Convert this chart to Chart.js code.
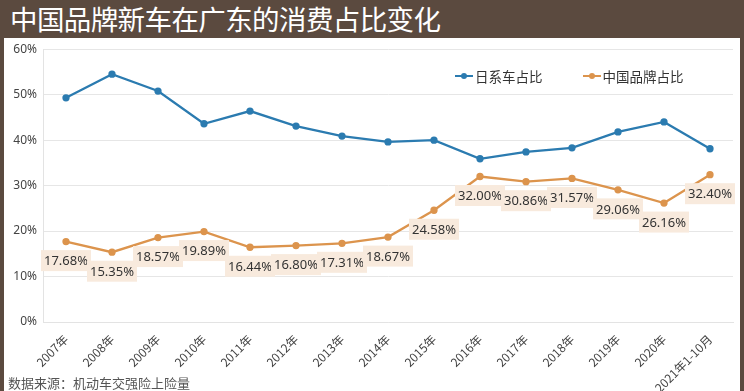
<!DOCTYPE html>
<html>
<head>
<meta charset="utf-8">
<script src="https://cdn.jsdelivr.net/npm/chart.js@4/dist/chart.umd.min.js"></script>
<style>
  body { margin: 0; }
  .frame {
    position: relative; width: 744px; height: 391px;
    background: #5b4a3f; overflow: hidden;
    font-family: "Noto Sans CJK SC", "Noto Sans", sans-serif;
  }
  .title {
    position: absolute; left: 10px; top: 0px; color: #fff;
    font-size: 27.5px; line-height: 36px; letter-spacing: -0.6px;
  }
  .panel {
    position: absolute; left: 4px; top: 38px; width: 736px; height: 353px;
    background: #fff;
  }
  #myChart { position: absolute; left: 0; top: -2px; }
  .legend {
    position: absolute; top: 28px; left: 451px; font-size: 13.5px; color: #333;
    display: flex; align-items: center;
  }
  .legend .item { display: flex; align-items: center; margin-right: 40px; }
  .legend .mk { position: relative; width: 18px; height: 2px; margin-right: 2px; }
  .legend .mk::after {
    content: ""; position: absolute; left: 6px; top: -2px; width: 6px; height: 6px;
    border-radius: 50%; background: inherit;
  }
  .source {
    position: absolute; left: 4px; top: 335px; font-size: 13px; color: #555;
  }
</style>
</head>
<body>
<div class="frame">
  <div class="title">中国品牌新车在广东的消费占比变化</div>
  <div class="panel">
    <canvas id="myChart" width="736" height="355"></canvas>
    <div class="legend">
      <div class="item"><span class="mk" style="background:#2b7bb0"></span>日系车占比</div>
      <div class="item"><span class="mk" style="background:#dc944d"></span>中国品牌占比</div>
    </div>
    <div class="source">数据来源：机动车交强险上险量</div>
  </div>
</div>
<script>
const years = ["2007年", "2008年", "2009年", "2010年", "2011年", "2012年", "2013年", "2014年",
  "2015年", "2016年", "2017年", "2018年", "2019年", "2020年", "2021年1-10月"];
const japanShare = [49.3, 54.5, 50.8, 43.6, 46.4, 43.1, 40.9, 39.6, 40.0, 35.9, 37.4, 38.3, 41.8, 44.0, 38.1];
const chinaShare = [17.68, 15.35, 18.57, 19.89, 16.44, 16.80, 17.31, 18.67, 24.58, 32.00, 30.86, 31.57, 29.06, 26.16, 32.40];

// value boxes under the orange line
const boxLabels = {
  id: "boxLabels",
  afterDatasetsDraw(chart) {
    const ctx = chart.ctx;
    const meta = chart.getDatasetMeta(1);
    ctx.save();
    ctx.font = '13px "Noto Sans", sans-serif';
    ctx.textAlign = "center";
    ctx.textBaseline = "middle";
    meta.data.forEach((pt, i) => {
      const txt = chinaShare[i].toFixed(2) + "%";
      const w = ctx.measureText(txt).width + 6;
      const h = 21;
      const x = pt.x, y = pt.y + 19;
      ctx.fillStyle = "#f8eadd";
      ctx.fillRect(x - w / 2, y - h / 2, w, h);
      ctx.fillStyle = "#333";
      ctx.fillText(txt, x, y + 1);
    });
    ctx.restore();
  }
};

new Chart(document.getElementById("myChart").getContext("2d"), {
  type: "line",
  data: {
    labels: years,
    datasets: [
      {
        label: "日系车占比",
        data: japanShare,
        borderColor: "#2b7bb0",
        backgroundColor: "#2b7bb0",
        borderWidth: 2.3,
        pointRadius: 2.5,
        fill: false,
        tension: 0
      },
      {
        label: "中国品牌占比",
        data: chinaShare,
        borderColor: "#dc944d",
        backgroundColor: "#dc944d",
        borderWidth: 2.3,
        pointRadius: 2.5,
        fill: false,
        tension: 0
      }
    ]
  },
  options: {
    responsive: false,
    animation: false,
    layout: { padding: { top: 5, right: 7, left: 0, bottom: 0 } },
    plugins: {
      legend: { display: false },
      tooltip: { enabled: false }
    },
    scales: {
      x: {
        offset: true,
        grid: { display: false },
        border: { display: true, color: "#e3e3e3" },
        ticks: {
          color: "#444",
          font: { size: 12, family: '"Noto Sans CJK SC", sans-serif' },
          maxRotation: 45,
          minRotation: 45,
          autoSkip: false,
          padding: 2
        },
        afterFit: (s) => { s.height = 69; }
      },
      y: {
        min: 0,
        max: 60,
        ticks: {
          stepSize: 10,
          color: "#444",
          font: { size: 12, family: '"Noto Sans", sans-serif' },
          callback: (v) => v + "%",
          padding: 6
        },
        grid: { color: "#e6e6e6", drawTicks: false },
        border: { display: true, color: "#e3e3e3" },
        afterFit: (s) => { s.width = 39; }
      }
    }
  },
  plugins: [boxLabels]
});
</script>
</body>
</html>
